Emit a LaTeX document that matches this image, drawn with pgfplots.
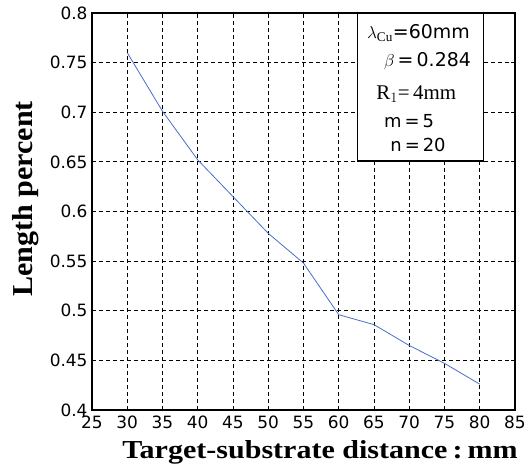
\documentclass[border=0pt]{standalone}
\usepackage{fontspec}
\setmainfont{Liberation Serif}
\newfontfamily\ticksans{DejaVu Sans}
\usepackage{pgfplots}
\usetikzlibrary{calc}
\pgfplotsset{compat=1.18}
\definecolor{curveblue}{RGB}{75,108,200}

\begin{document}
\begin{tikzpicture}[x=1bp,y=1bp]
\begin{axis}[
  name=ax,
  scale only axis,
  width=423bp,
  height=397bp,
  xmin=25, xmax=85,
  ymin=0.4, ymax=0.8,
  xtick={25,30,...,85},
  ytick={0.4,0.45,...,0.8},
  grid=major,
  grid style={draw=black, line width=0.9pt, dash pattern=on 4bp off 3bp},
  axis line style={line width=1.3pt},
  major tick length=4bp,
  tick style={black, line width=0.8pt},
  /pgf/number format/assume math mode=true,
  /pgf/number format/fixed,
  /pgf/number format/precision=2,
  tick label style={font=\ticksans\fontsize{17}{18}\selectfont},
  yticklabel style={xshift=-1bp},
  xticklabel style={yshift=-5bp, inner sep=1bp},
  clip=false,
]
\addplot[color=curveblue, line width=0.8pt] coordinates {
  (30,0.760) (35,0.701) (40,0.652) (45,0.615) (50,0.578)
  (55,0.548) (60,0.496) (65,0.486) (70,0.465) (75,0.447) (80,0.426)
};
\draw[line width=1.3pt, fill=white] (axis cs:62.7,0.651) rectangle (axis cs:80.5,0.8);
\node[anchor=west, inner sep=0] at (axis cs:64.0,0.78) {\fontsize{19}{20}\selectfont$\lambda_{\mathrm{Cu}}$\ticksans=60mm};
\node[anchor=west, inner sep=0] at (axis cs:66.4,0.751) {\fontsize{19}{20}\selectfont$\beta$\,\ticksans=\,0.284};
\node[anchor=west, inner sep=0] at (axis cs:65.3,0.718) {\fontsize{21}{22}\selectfont R$_1$=\,4mm};
\node[anchor=west, inner sep=0] at (axis cs:66.4,0.691) {\ticksans\fontsize{18}{19}\selectfont m\,=\,5};
\node[anchor=west, inner sep=0] at (axis cs:67.3,0.667) {\ticksans\fontsize{18}{19}\selectfont n\,=\,20};
\end{axis}
\node[anchor=base, inner sep=0, font=\bfseries\fontsize{26}{28}\selectfont] at ($(ax.south west)+(228bp,-48bp)$) {\scalebox{1.16}[1]{Target-substrate distance\,:\,mm}};
\node[anchor=base, inner sep=0, rotate=90, font=\bfseries\fontsize{29}{31}\selectfont] at ($(ax.south west)+(-59bp,211bp)$) {\scalebox{1.04}[1]{Length percent}};
\pgfresetboundingbox
\useasboundingbox ($(ax.south west)+(-92bp,-54bp)$) rectangle ++(526bp,464bp);
\end{tikzpicture}
\end{document}
